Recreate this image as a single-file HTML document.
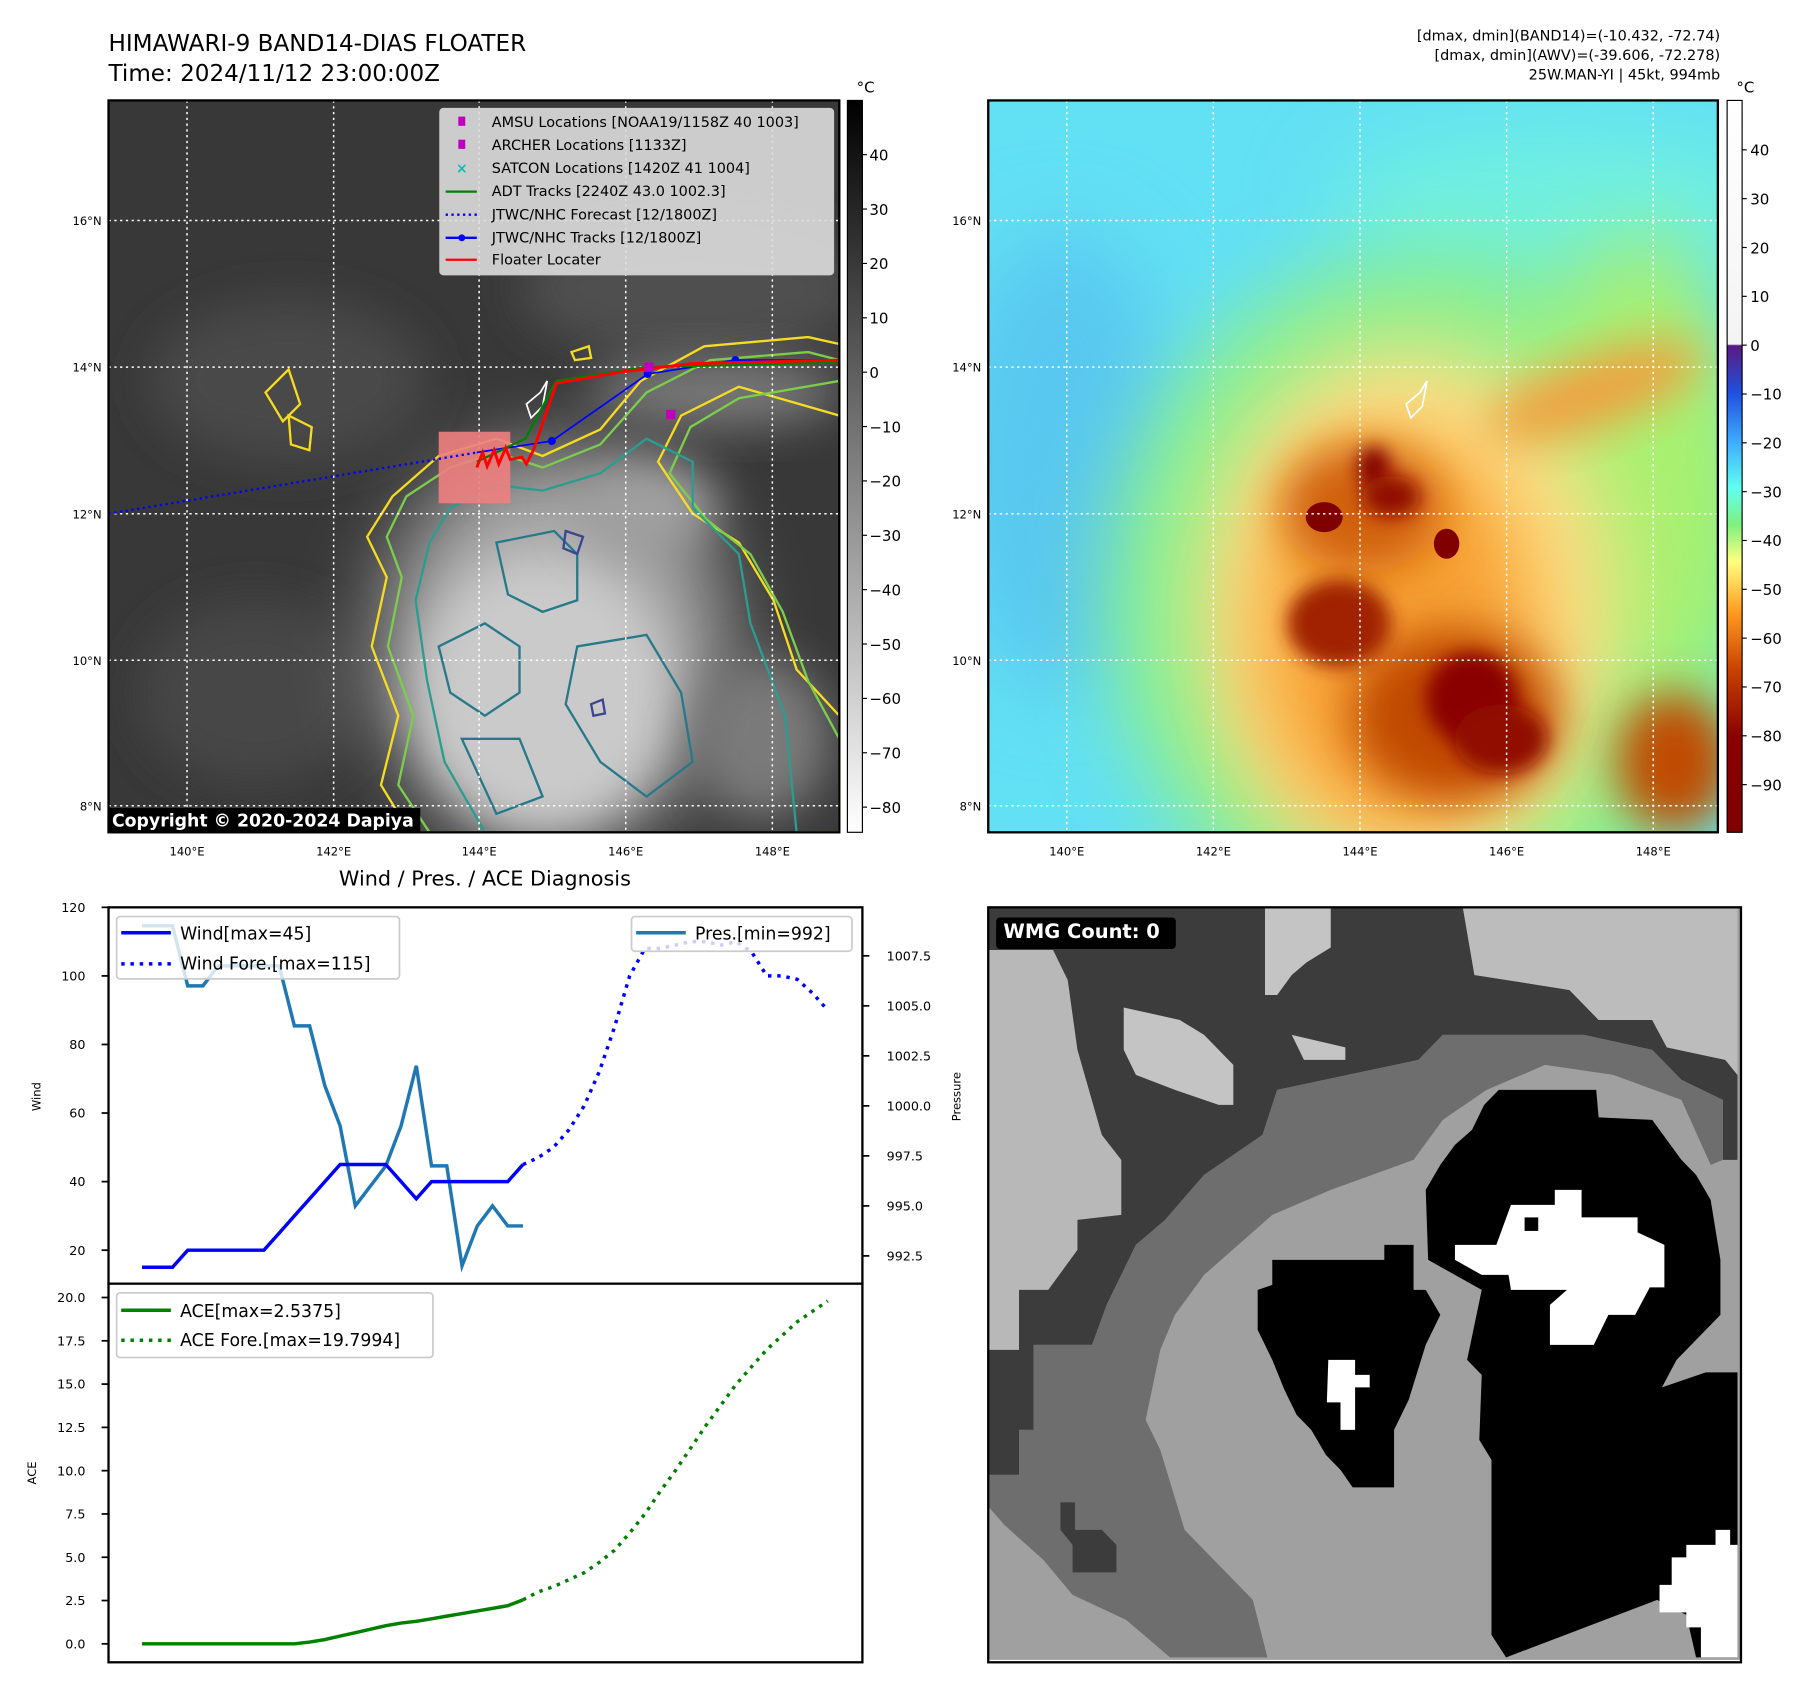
<!DOCTYPE html>
<html><head><meta charset="utf-8"><style>
html,body{margin:0;padding:0;background:#fff;}
svg{display:block;font-family:"DejaVu Sans","Liberation Sans",sans-serif;}
</style></head><body>
<svg id="root" width="1801" height="1690" viewBox="0 0 1560 1464" preserveAspectRatio="none" xmlns="http://www.w3.org/2000/svg">
<defs>
<filter id="b8" x="-50%" y="-50%" width="200%" height="200%"><feGaussianBlur stdDeviation="8"/></filter>
<filter id="b20" x="-50%" y="-50%" width="200%" height="200%"><feGaussianBlur stdDeviation="20"/></filter>
<filter id="b35" x="-50%" y="-50%" width="200%" height="200%"><feGaussianBlur stdDeviation="35"/></filter>
<clipPath id="c1"><rect x="94" y="87" width="633" height="634"/></clipPath>
<clipPath id="c2"><rect x="856" y="87" width="632" height="634"/></clipPath>
<clipPath id="c3"><rect x="856" y="786" width="652" height="654"/></clipPath>
<linearGradient id="g1" x1="0" y1="0" x2="0" y2="1"><stop offset="0" stop-color="#000"/><stop offset="1" stop-color="#fff"/></linearGradient>
<linearGradient id="g2" x1="0" y1="0" x2="0" y2="1">
<stop offset="0" stop-color="#ffffff"/><stop offset="0.333" stop-color="#f4f4f4"/>
<stop offset="0.335" stop-color="#5a1a80"/><stop offset="0.40" stop-color="#2050e0"/>
<stop offset="0.47" stop-color="#40b0ff"/><stop offset="0.53" stop-color="#60fff0"/>
<stop offset="0.58" stop-color="#80f080"/><stop offset="0.63" stop-color="#ffff80"/>
<stop offset="0.70" stop-color="#ff9a20"/><stop offset="0.78" stop-color="#c84000"/>
<stop offset="0.87" stop-color="#8a0000"/><stop offset="1" stop-color="#800000"/></linearGradient>
</defs>

<!-- Titles -->
<text x="94" y="44" font-size="20">HIMAWARI-9 BAND14-DIAS FLOATER</text>
<text x="94" y="70" font-size="20">Time: 2024/11/12 23:00:00Z</text>
<g font-size="12.5" text-anchor="end">
<text x="1490" y="35">[dmax, dmin](BAND14)=(-10.432, -72.74)</text>
<text x="1490" y="52">[dmax, dmin](AWV)=(-39.606, -72.278)</text>
<text x="1490" y="69">25W.MAN-YI | 45kt, 994mb</text>
</g>

<!-- Map 1 -->
<g clip-path="url(#c1)">
<rect x="94" y="87" width="633" height="634" fill="#383838"/>
<ellipse cx="250" cy="330" rx="120" ry="70" fill="#4a4a4a" filter="url(#b20)"/>
<ellipse cx="600" cy="250" rx="150" ry="60" fill="#505050" filter="url(#b20)"/>
<ellipse cx="220" cy="600" rx="100" ry="80" fill="#474747" filter="url(#b20)"/>
<ellipse cx="480" cy="560" rx="150" ry="170" fill="#a8a8a8" filter="url(#b35)"/>
<ellipse cx="470" cy="600" rx="110" ry="120" fill="#cacaca" filter="url(#b20)"/>
<ellipse cx="620" cy="340" rx="110" ry="30" fill="#7a7a7a" filter="url(#b20)"/>
<ellipse cx="660" cy="640" rx="60" ry="70" fill="#7a7a7a" filter="url(#b20)"/>
<ellipse cx="560" cy="440" rx="60" ry="40" fill="#a0a0a0" filter="url(#b20)"/>
<path d="M340,430 L380,395 L430,380 L470,395 L520,372 L555,330 L610,300 L700,292 L727,298 L727,360 L640,335 L590,360 L570,400 L600,445 L640,470 L670,520 L690,580 L727,620 L727,721 L355,721 L330,680 L345,620 L322,560 L335,500 L318,465 Z" fill="none" stroke="#f5dc20" stroke-width="2"/>
<path d="M352,430 L390,405 L430,392 L470,405 L520,385 L560,340 L615,312 L700,305 L727,312 L727,330 L640,345 L598,370 L580,410 L612,450 L650,480 L678,530 L700,590 L727,640 L727,721 L372,721 L345,680 L358,620 L336,560 L348,500 L335,465 Z" fill="none" stroke="#7ccd4c" stroke-width="2"/>
<path d="M390,440 L430,420 L470,425 L520,410 L560,380 L600,400 L600,440 L640,480 L650,540 L680,620 L690,721 L420,721 L385,660 L370,590 L360,520 L372,470 Z" fill="none" stroke="#2a9d8f" stroke-width="2"/>
<path d="M430,470 L480,460 L500,480 L500,520 L470,530 L440,515 Z M380,560 L420,540 L450,560 L450,600 L420,620 L390,600 Z M500,560 L560,550 L590,600 L600,660 L560,690 L520,660 L490,610 Z M400,640 L450,640 L470,690 L430,705 Z" fill="none" stroke="#27798a" stroke-width="2"/>
<path d="M490,460 L505,465 L500,480 L488,475 Z M512,610 L522,606 L524,618 L514,620 Z" fill="none" stroke="#3b4592" stroke-width="2"/>
<path d="M230,340 L250,320 L260,350 L245,365 Z M250,360 L270,370 L268,390 L252,385 Z M495,305 L510,300 L512,310 L498,312 Z" fill="none" stroke="#f5dc20" stroke-width="2"/>
<g stroke="#fff" stroke-width="1.3" stroke-dasharray="2,3">
<line x1="162" y1="87" x2="162" y2="721"/><line x1="289" y1="87" x2="289" y2="721"/><line x1="415" y1="87" x2="415" y2="721"/><line x1="542" y1="87" x2="542" y2="721"/><line x1="669" y1="87" x2="669" y2="721"/>
<line x1="94" y1="191" x2="727" y2="191"/><line x1="94" y1="318" x2="727" y2="318"/><line x1="94" y1="445" x2="727" y2="445"/><line x1="94" y1="572" x2="727" y2="572"/><line x1="94" y1="698" x2="727" y2="698"/>
</g>
<path d="M468,340 L474,330 L470,352 L460,362 L456,350 Z" fill="none" stroke="#fff" stroke-width="1.5"/>
<rect x="380" y="374" width="62" height="62" fill="#f08080" opacity="0.9"/>
<polyline points="94,445 413,392" stroke="#0000ff" stroke-width="2" stroke-dasharray="2,3" fill="none"/>
<polyline points="413,392 478,382 561,324 637,312 727,312" stroke="#0000ff" stroke-width="1.5" fill="none"/>
<g fill="#0000ff"><circle cx="478" cy="382" r="3.5"/><circle cx="561" cy="324" r="3.5"/><circle cx="637" cy="312" r="3.5"/></g>
<polyline points="413,400 455,380 482,330 560,318 727,314" stroke="#008000" stroke-width="2" fill="none"/>
<polyline points="413,405 418,392 422,404 428,390 432,402 438,388 442,398 452,396 456,402 462,390 482,332 540,322 600,315 727,312 727,322" stroke="#ff0000" stroke-width="2.5" fill="none"/>
<rect x="577" y="355" width="8" height="8" fill="#c000c0"/>
<rect x="558" y="314" width="8" height="8" fill="#c000c0"/>
<rect x="94" y="700" width="270" height="21" fill="#000"/>
<text x="97" y="716" font-size="15" font-weight="bold" fill="#fff">Copyright © 2020-2024 Dapiya</text>
</g>
<rect x="94" y="87" width="633" height="634" fill="none" stroke="#000" stroke-width="2"/>
<!-- legend -->
<g>
<rect x="381" y="94" width="341" height="144" rx="3" fill="#ddd" fill-opacity="0.9" stroke="#ccc"/>
<g font-size="12.5">
<rect x="397" y="101" width="6" height="8" fill="#c000c0"/><text x="426" y="110">AMSU Locations [NOAA19/1158Z 40 1003]</text>
<rect x="397" y="121" width="6" height="8" fill="#c000c0"/><text x="426" y="130">ARCHER Locations [1133Z]</text>
<text x="395" y="150" fill="#00c0c0" font-size="12" font-weight="bold">×</text><text x="426" y="150">SATCON Locations [1420Z 41 1004]</text>
<line x1="386" y1="166" x2="413" y2="166" stroke="#008000" stroke-width="2"/><text x="426" y="170">ADT Tracks [2240Z 43.0 1002.3]</text>
<line x1="386" y1="186" x2="413" y2="186" stroke="#0000ff" stroke-width="2" stroke-dasharray="2,3"/><text x="426" y="190">JTWC/NHC Forecast [12/1800Z]</text>
<line x1="386" y1="206" x2="413" y2="206" stroke="#0000ff" stroke-width="2"/><circle cx="400" cy="206" r="3" fill="#0000ff"/><text x="426" y="210">JTWC/NHC Tracks [12/1800Z]</text>
<line x1="386" y1="225" x2="413" y2="225" stroke="#ff0000" stroke-width="2"/><text x="426" y="229">Floater Locater</text>
</g></g>
<!-- map1 ticks -->
<g font-size="10" text-anchor="end">
<text x="88" y="195">16°N</text><text x="88" y="322">14°N</text><text x="88" y="449">12°N</text><text x="88" y="576">10°N</text><text x="88" y="702">8°N</text></g>
<g font-size="10" text-anchor="middle">
<text x="162" y="741">140°E</text><text x="289" y="741">142°E</text><text x="415" y="741">144°E</text><text x="542" y="741">146°E</text><text x="669" y="741">148°E</text></g>
<!-- colorbar 1 -->
<rect x="734" y="87" width="13" height="634" fill="url(#g1)" stroke="#000" stroke-width="1"/>
<text x="742" y="80" font-size="13">°C</text>
<g id="cb1" font-size="13"></g>

<!-- Map 2 -->
<g clip-path="url(#c2)">
<rect x="856" y="87" width="632" height="634" fill="#62e0f4"/>
<ellipse cx="920" cy="400" rx="100" ry="200" fill="#58c8f0" filter="url(#b35)"/>
<ellipse cx="1350" cy="180" rx="200" ry="70" fill="#70f0e0" filter="url(#b35)"/>
<ellipse cx="1240" cy="520" rx="280" ry="300" fill="#8ef088" filter="url(#b35)"/>
<ellipse cx="1420" cy="400" rx="90" ry="200" fill="#a8f070" filter="url(#b35)"/>
<ellipse cx="1220" cy="530" rx="180" ry="230" fill="#ffe088" filter="url(#b35)"/>
<ellipse cx="1210" cy="550" rx="120" ry="170" fill="#f7a030" filter="url(#b35)"/>
<ellipse cx="1380" cy="340" rx="100" ry="30" fill="#f0a040" filter="url(#b20)" transform="rotate(-20 1380 340)"/>
<ellipse cx="1180" cy="440" rx="70" ry="55" fill="#d06010" filter="url(#b20)"/>
<ellipse cx="1260" cy="620" rx="90" ry="75" fill="#c04800" filter="url(#b20)"/>
<ellipse cx="1160" cy="540" rx="45" ry="38" fill="#a02000" filter="url(#b8)"/>
<ellipse cx="1275" cy="605" rx="40" ry="40" fill="#8a0000" filter="url(#b8)"/>
<ellipse cx="1300" cy="640" rx="40" ry="30" fill="#900800" filter="url(#b8)"/>
<ellipse cx="1190" cy="405" rx="14" ry="18" fill="#800000" filter="url(#b8)"/>
<ellipse cx="1205" cy="430" rx="25" ry="18" fill="#900800" filter="url(#b8)"/>
<ellipse cx="1147" cy="448" rx="16" ry="13" fill="#800000"/>
<ellipse cx="1253" cy="471" rx="11" ry="13" fill="#800000"/>
<ellipse cx="1450" cy="660" rx="50" ry="60" fill="#c04800" filter="url(#b20)"/>
<g stroke="#fff" stroke-width="1.3" stroke-dasharray="2,3">
<line x1="924" y1="87" x2="924" y2="721"/><line x1="1051" y1="87" x2="1051" y2="721"/><line x1="1178" y1="87" x2="1178" y2="721"/><line x1="1305" y1="87" x2="1305" y2="721"/><line x1="1432" y1="87" x2="1432" y2="721"/>
<line x1="856" y1="191" x2="1488" y2="191"/><line x1="856" y1="318" x2="1488" y2="318"/><line x1="856" y1="445" x2="1488" y2="445"/><line x1="856" y1="572" x2="1488" y2="572"/><line x1="856" y1="698" x2="1488" y2="698"/>
</g>
<path d="M1230,340 L1236,330 L1232,352 L1222,362 L1218,350 Z" fill="none" stroke="#fff" stroke-width="1.5"/>
</g>
<rect x="856" y="87" width="632" height="634" fill="none" stroke="#000" stroke-width="2"/>
<g font-size="10" text-anchor="end">
<text x="850" y="195">16°N</text><text x="850" y="322">14°N</text><text x="850" y="449">12°N</text><text x="850" y="576">10°N</text><text x="850" y="702">8°N</text></g>
<g font-size="10" text-anchor="middle">
<text x="924" y="741">140°E</text><text x="1051" y="741">142°E</text><text x="1178" y="741">144°E</text><text x="1305" y="741">146°E</text><text x="1432" y="741">148°E</text></g>
<rect x="1496" y="87" width="13" height="634" fill="url(#g2)" stroke="#000" stroke-width="1"/>
<text x="1504" y="80" font-size="13">°C</text>
<g id="cb2" font-size="13"></g>

<!-- Diagnosis charts -->
<text x="420" y="767" font-size="18" text-anchor="middle">Wind / Pres. / ACE Diagnosis</text>
<rect x="94" y="786" width="653" height="326" fill="#fff" stroke="#000" stroke-width="2"/>
<rect x="94" y="1112" width="653" height="328" fill="#fff" stroke="#000" stroke-width="2"/>
<text transform="translate(35,950) rotate(-90)" font-size="10" text-anchor="middle">Wind</text>
<text transform="translate(832,950) rotate(-90)" font-size="10" text-anchor="middle">Pressure</text>
<text transform="translate(31,1276) rotate(-90)" font-size="10" text-anchor="middle">ACE</text>
<g id="chart"></g>
<g>
<rect x="101" y="794" width="245" height="54" rx="3" fill="#fff" fill-opacity="0.8" stroke="#ccc" stroke-width="1.5"/>
<line x1="105" y1="808" x2="148" y2="808" stroke="#0000ff" stroke-width="3"/><text x="156" y="814" font-size="15">Wind[max=45]</text>
<line x1="105" y1="835" x2="148" y2="835" stroke="#0000ff" stroke-width="3" stroke-dasharray="3,5"/><text x="156" y="840" font-size="15">Wind Fore.[max=115]</text>
</g>
<g>
<rect x="547" y="794" width="191" height="30" rx="3" fill="#fff" fill-opacity="0.8" stroke="#ccc" stroke-width="1.5"/>
<line x1="551" y1="808" x2="594" y2="808" stroke="#1f77b4" stroke-width="3"/><text x="602" y="814" font-size="15">Pres.[min=992]</text>
</g>
<g>
<rect x="101" y="1120" width="274" height="56" rx="3" fill="#fff" fill-opacity="0.8" stroke="#ccc" stroke-width="1.5"/>
<line x1="105" y1="1135" x2="148" y2="1135" stroke="#008000" stroke-width="3"/><text x="156" y="1141" font-size="15">ACE[max=2.5375]</text>
<line x1="105" y1="1161" x2="148" y2="1161" stroke="#008000" stroke-width="3" stroke-dasharray="3,5"/><text x="156" y="1166" font-size="15">ACE Fore.[max=19.7994]</text>
</g>

<!-- WMG panel -->
<g clip-path="url(#c3)">
<g transform="translate(848.9,779.6) scale(0.4219,0.4331)" stroke="none">
<rect x="0" y="0" width="1560" height="1520" fill="#a0a0a0"/>
<polygon fill="#3c3c3c" points="5,8 990,8 1015,150 1210,180 1270,240 1380,240 1410,295 1530,320 1555,350 1555,520 1525,520 1525,400 1440,360 1380,300 1240,270 950,270 900,320 610,380 580,470 460,550 380,640 320,690 260,810 230,890 110,890 110,1060 80,1060 80,1150 5,1150"/>
<polygon fill="#bcbcbc" points="990,8 1555,8 1555,350 1530,320 1410,295 1380,240 1270,240 1210,180 1015,150"/>
<polygon fill="#b8b8b8" points="5,100 150,100 180,160 200,300 250,470 290,520 290,630 200,640 200,700 140,780 80,780 80,900 5,900"/>
<polygon fill="#c4c4c4" points="295,215 410,240 460,270 520,330 520,410 490,410 400,380 320,350 295,300"/>
<polygon fill="#c4c4c4" points="585,10 720,10 720,95 670,125 640,150 610,190 585,190"/>
<polygon fill="#c4c4c4" points="640,270 750,295 750,320 665,320"/>
<polygon fill="#6e6e6e" points="5,1150 80,1150 80,1060 110,1060 110,890 230,890 260,810 320,690 380,640 460,550 580,470 610,380 900,320 950,270 1240,270 1380,300 1440,360 1525,400 1525,520 1500,530 1440,400 1300,350 1160,330 1040,380 950,440 890,520 720,580 600,630 460,750 400,830 370,900 340,1040 370,1100 420,1260 560,1400 590,1515 390,1515 300,1440 190,1390 130,1320 50,1250 5,1200"/>
<polygon fill="#3c3c3c" points="165,1205 195,1205 195,1260 250,1260 280,1290 280,1345 190,1345 190,1290 165,1260"/>
<polygon fill="#000" points="1065,380 1265,380 1270,435 1380,440 1440,520 1470,550 1500,600 1520,720 1520,830 1490,860 1430,920 1400,975 1490,945 1555,945 1555,1515 1470,1515 1450,1430 1390,1400 1080,1515 1050,1470 1050,1120 1025,1080 1030,950 1000,920 1030,780 975,750 920,720 915,580 945,530 975,490 1010,460 1035,410"/>
<polygon fill="#000" points="600,720 830,720 830,690 890,690 890,780 915,780 945,830 915,890 880,1000 850,1060 850,1175 765,1175 740,1140 710,1110 680,1060 650,1030 625,980 600,920 570,860 570,780 600,770"/>
<polygon fill="#fff" points="975,690 1060,690 1090,610 1180,610 1180,580 1235,580 1235,635 1350,635 1350,665 1405,690 1405,775 1375,775 1345,830 1290,830 1260,890 1170,890 1170,810 1205,780 1090,780 1085,750 1030,750 975,720"/>
<rect x="1118" y="635" width="28" height="27" fill="#000"/>
<polygon fill="#fff" points="715,920 770,920 770,950 800,950 800,975 770,975 770,1060 740,1060 740,1005 712,1005"/>
<polygon fill="#fff" points="1450,1290 1510,1290 1510,1260 1540,1260 1540,1290 1555,1290 1555,1515 1480,1515 1480,1455 1450,1455 1450,1425 1395,1425 1395,1370 1420,1370 1420,1315 1450,1315"/>
<rect x="33" y="35" width="369" height="63" rx="8" fill="#000"/>
<text x="48" y="78" font-size="40" font-weight="bold" fill="#fff" transform="scale(1,0.974)">WMG Count: 0</text>
</g></g>
<rect x="856" y="786" width="652" height="654" fill="none" stroke="#000" stroke-width="2"/>
</svg>
<script>
const idxObs = [0,1,2,3,4,5,6,7,8,9,10,11,12,13,14,15,16,17,18,19,20,21,22,23,24,25];
const windObs = [15,15,15,20,20,20,20,20,20,25,30,35,40,45,45,45,45,40,35,40,40,40,40,40,40,45];
const presObs = [1009,1009,1009,1006,1006,1007,1007,1007,1007,1007,1004,1004,1001,999,995,996,997,999,1002,997,997,992,994,995,994,994];
const aceObs = [0,0,0,0,0,0,0,0,0,0,0,0.1,0.25,0.45,0.65,0.85,1.05,1.2,1.3,1.45,1.6,1.75,1.9,2.05,2.2,2.5375];
const idxFore = [25,26,27,28,29,30,31,32,33,34,35,36,37,38,39,40,41,42,43,44,45];
const windFore = [45,47,50,55,62,72,85,100,108,108,109,110,110,109,110,107,100,100,99,95,90];
const aceFore = [2.5375,3.0,3.3,3.7,4.1,4.7,5.4,6.4,7.5,8.8,10.0,11.3,12.6,13.8,15.0,16.0,17.0,17.8,18.6,19.2,19.7994];
const windTicks = [20,40,60,80,100,120];
const presTicks = [992.5,995.0,997.5,1000.0,1002.5,1005.0,1007.5];
const aceTicks = [0,2.5,5,7.5,10,12.5,15,17.5,20];
const cb1Ticks = [40,30,20,10,0,-10,-20,-30,-40,-50,-60,-70,-80];
const cb2Ticks = [40,30,20,10,0,-10,-20,-30,-40,-50,-60,-70,-80,-90];

const NS='http://www.w3.org/2000/svg';
const xs = i => 123 + i*13.2;
const yW = v => 786 + (120 - v)*2.97;
const yP = v => 828 + (1007.5 - v)*17.33;
const yA = v => 1424 - v*15;
const yC1 = v => 134 + (40 - v)*4.71;
const yC2 = v => 299 - v*4.23;
const chart = document.getElementById('chart');
function mk(tag, attrs, parent){const e=document.createElementNS(NS,tag);for(const k in attrs)e.setAttribute(k,attrs[k]);(parent||chart).appendChild(e);return e;}
function pts(ix, vals, yf){return ix.map((i,k)=>xs(i).toFixed(1)+','+yf(vals[k]).toFixed(1)).join(' ');}

let e;
e = mk('polyline',{points:pts(idxObs,presObs,yP),fill:'none',stroke:'#1f77b4','stroke-width':3});


e = mk('polyline',{points:pts(idxObs,windObs,yW),fill:'none',stroke:'#0000ff','stroke-width':3});


e = mk('polyline',{points:pts(idxFore,windFore,yW),fill:'none',stroke:'#0000ff','stroke-width':3,'stroke-dasharray':'3,5'});


e = mk('polyline',{points:pts(idxObs,aceObs,yA),fill:'none',stroke:'#008000','stroke-width':3});


e = mk('polyline',{points:pts(idxFore,aceFore,yA),fill:'none',stroke:'#008000','stroke-width':3,'stroke-dasharray':'3,5'});



windTicks.forEach(v=>{
  mk('line',{x1:88,x2:94,y1:yW(v),y2:yW(v),stroke:'#000','stroke-width':1.5});
  const t = mk('text',{x:74,y:yW(v)+4,'font-size':11,'text-anchor':'end'}); t.textContent=v;
  
  
});
presTicks.forEach(v=>{
  mk('line',{x1:747,x2:753,y1:yP(v),y2:yP(v),stroke:'#000','stroke-width':1.5});
  const t = mk('text',{x:768,y:yP(v)+4,'font-size':11}); t.textContent=v.toFixed(1);
  
  
});
aceTicks.forEach(v=>{
  mk('line',{x1:88,x2:94,y1:yA(v),y2:yA(v),stroke:'#000','stroke-width':1.5});
  const t = mk('text',{x:74,y:yA(v)+4,'font-size':11,'text-anchor':'end'}); t.textContent=v.toFixed(1);
  
  
});
const cb1 = document.getElementById('cb1');
cb1Ticks.forEach(v=>{
  mk('line',{x1:747,x2:751,y1:yC1(v),y2:yC1(v),stroke:'#000'},cb1);
  const t = mk('text',{x:753,y:yC1(v)+5},cb1); t.textContent=(v<0?'\u2212'+(-v):v);
  
  
});
const cb2 = document.getElementById('cb2');
cb2Ticks.forEach(v=>{
  mk('line',{x1:1509,x2:1513,y1:yC2(v),y2:yC2(v),stroke:'#000'},cb2);
  const t = mk('text',{x:1516,y:yC2(v)+5},cb2); t.textContent=(v<0?'\u2212'+(-v):v);
  
  
});
</script>
</body></html>
